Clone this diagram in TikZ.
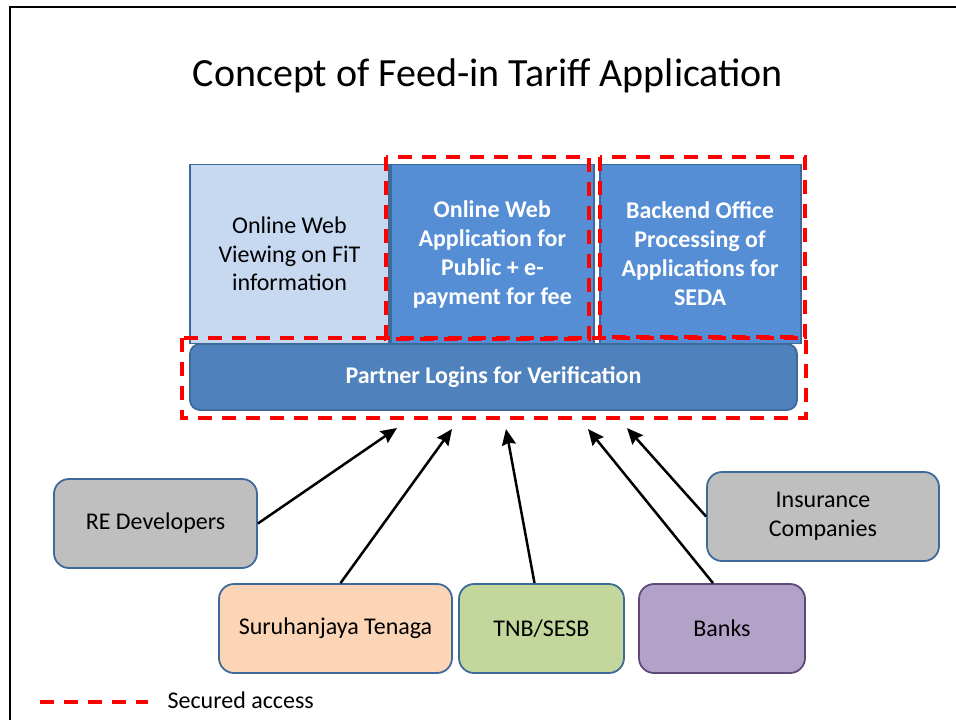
\documentclass[tikz,border=0pt]{standalone}
\usepackage{fontspec}
\setmainfont{Carlito}
\usepackage{xcolor}
\usetikzlibrary{arrows.meta}
\usetikzlibrary{positioning}
\definecolor{boxline}{HTML}{3E6A9A}
\definecolor{viewfill}{HTML}{C6D9F1}
\definecolor{appfill}{HTML}{558ED5}
\definecolor{loginfill}{HTML}{4F81BD}
\definecolor{greyfill}{HTML}{BFBFBF}
\definecolor{peachfill}{HTML}{FBD5B5}
\definecolor{greenfill}{HTML}{C3D69B}
\definecolor{purplefill}{HTML}{B3A2C7}
\definecolor{purpleline}{HTML}{5F497A}
\begin{document}
\begin{tikzpicture}[x=1pt,y=-1pt,-,>={Stealth[length=16pt,width=14pt,inset=2pt]},auto,node distance=3pt]
 				 \tikzstyle{topbox}=[draw=boxline, line width=1.8pt, minimum height=179pt, align=center, font=\fontsize{24}{28.5}\selectfont]
 				 \tikzstyle{party}=[draw=boxline, line width=1.8pt, rounded corners=15pt, minimum height=89pt, align=center, font=\fontsize{24}{29}\selectfont]
 				 \tikzstyle{secure}=[red, line width=4pt, dash pattern=on 14pt off 10pt]
 				 \tikzstyle{link}=[->, black, line width=2.5pt]
 					 \useasboundingbox (0,0) rectangle (956,720);
 					 \draw[line width=2pt] (10,720) -- (10,7) -- (956,7);
 					 \node[font=\fontsize{40}{46}\selectfont] (T) at (488,76) {Concept of Feed-in Tariff Application};
 					 % top row
 					 \node[topbox, fill=viewfill, minimum width=199pt] (V) at (289.5,254) {Online Web\\Viewing on FiT\\information};
 					 \node[topbox, fill=appfill, minimum width=203pt, text=white, font=\fontsize{24}{29}\selectfont\bfseries] (W) [right=0pt of V] {Online Web\\Application for\\Public + e-\\payment for fee};
 					 \node[topbox, fill=appfill, minimum width=201pt, text=white, font=\fontsize{24}{29}\selectfont\bfseries] (S) [right=4pt of W] {Backend Office\\Processing of\\Applications for\\SEDA};
 					 \node[draw=boxline, line width=1.8pt, fill=loginfill, rounded corners=10pt, minimum width=607pt, minimum height=66pt, text=white, font=\fontsize{24}{28}\selectfont\bfseries] (P) at (493.5,377) {Partner Logins for Verification};
 					 % secured areas
 					 \draw[secure] (386,157) rectangle (589,339);
 					 \draw[secure] (600,157) rectangle (805,337);
 					 \draw[secure] (182,338) rectangle (806,418);
 					 % partners
 					 \node[party, fill=greyfill, minimum width=203pt] (R) at (155.5,523.5) {RE Developers};
 					 \node[party, fill=greyfill, minimum width=232pt] (I) at (823,516.5) {Insurance\\Companies};
 					 \node[party, fill=peachfill, minimum width=233pt] (ST) at (335.5,628.5) {Suruhanjaya Tenaga};
 					 \node[party, fill=greenfill, minimum width=165pt] (TN) at (541.5,628.5) {TNB/SESB};
 					 \node[party, fill=purplefill, draw=purpleline, minimum width=166pt] (B) at (722,628.5) {Banks};
 					 \coordinate (r) at (397,428);
 					 \coordinate (st) at (452,429);
 					 \coordinate (tn) at (506,429);
 					 \coordinate (b) at (588,429);
 					 \coordinate (i) at (627,428);
				\path
				(R.east) edge [link] (r)
				([xshift=5pt]ST.north) edge [link] (st)
				([xshift=-7pt]TN.north) edge [link] (tn)
				([xshift=-9pt]B.north) edge [link] (b)
				(I.west) edge [link] (i);
 					 % legend
 					 \draw[secure] (40,702) -- (148,702);
 					 \node[anchor=west, font=\fontsize{24}{28}\selectfont] (L) at (164,700) {Secured access};
\end{tikzpicture}
\end{document}
